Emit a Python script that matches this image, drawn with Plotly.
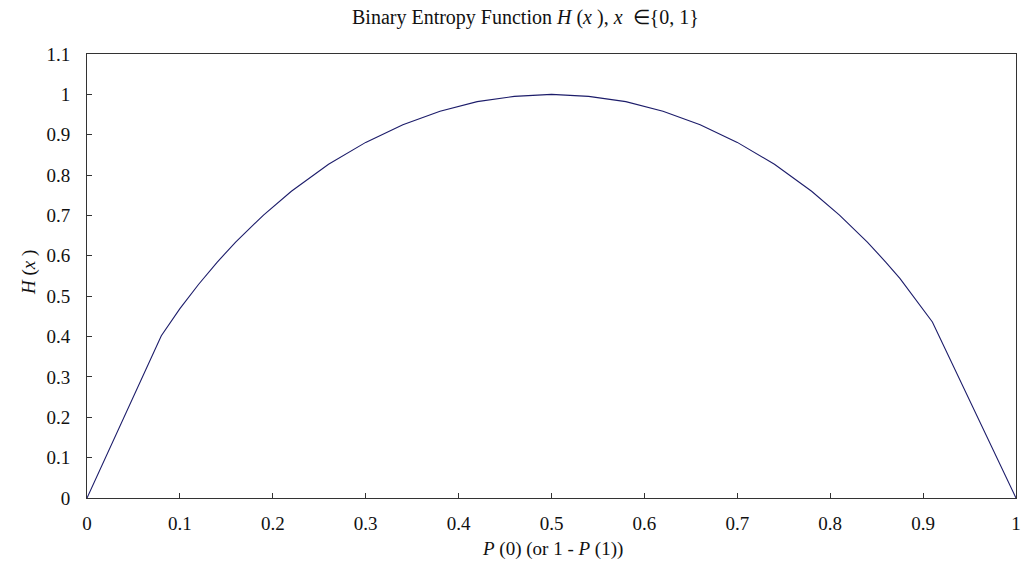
import plotly.graph_objects as go

p0 = [0.0, 0.08, 0.10, 0.12, 0.14, 0.16, 0.19,
      0.22, 0.26, 0.30, 0.34, 0.38, 0.42, 0.46, 0.50,
      0.54, 0.58, 0.62, 0.66, 0.70, 0.74, 0.78, 0.81, 0.84, 0.86, 0.875,
      0.91, 1.0]
h = [0.0, 0.402, 0.469, 0.529, 0.584, 0.634, 0.701,
     0.760, 0.827, 0.881, 0.925, 0.958, 0.982, 0.995, 1.0,
     0.995, 0.982, 0.958, 0.925, 0.881, 0.827, 0.760, 0.701, 0.634, 0.584, 0.544,
     0.436, 0.0]

x_ticks = [0, 0.1, 0.2, 0.3, 0.4, 0.5, 0.6, 0.7, 0.8, 0.9, 1]
x_labels = ["0", "0.1", "0.2", "0.3", "0.4", "0.5", "0.6", "0.7", "0.8", "0.9", "1"]
y_ticks = [0, 0.1, 0.2, 0.3, 0.4, 0.5, 0.6, 0.7, 0.8, 0.9, 1, 1.1]
y_labels = ["0", "0.1", "0.2", "0.3", "0.4", "0.5", "0.6", "0.7", "0.8", "0.9", "1", "1.1"]

FONT = "Liberation Serif, Times New Roman, serif"
TXT = "#111111"

fig = go.Figure()
fig.add_trace(go.Scatter(x=p0, y=h, mode="lines",
                         line=dict(color="#1c1c6a", width=1.1),
                         showlegend=False, hoverinfo="skip"))

axis_common = dict(showline=True, linecolor="#333333", linewidth=1,
                   mirror=True, ticks="inside", ticklen=5, tickcolor="#333333",
                   showgrid=False, zeroline=False, automargin=False,
                   tickfont=dict(family=FONT, size=19, color=TXT))

fig.update_layout(
    width=1021, height=580,
    margin=dict(l=87, r=5, t=54, b=82, autoexpand=False),
    paper_bgcolor="white", plot_bgcolor="white",
    font=dict(family=FONT, color=TXT),
    xaxis=dict(range=[0, 1], tickvals=x_ticks, ticktext=x_labels,
               ticklabelstandoff=8, **axis_common),
    yaxis=dict(range=[0, 1.1], tickvals=y_ticks, ticktext=y_labels,
               ticklabelstandoff=12, **axis_common),
)

fig.add_annotation(text="Binary Entropy Function <i>H</i> (<i>x</i> ), <i>x</i>  ∈{0, 1}",
                   xref="paper", yref="paper", x=(525 - 87) / 929, y=(498 - 18) / 444,
                   xanchor="center", yanchor="middle", showarrow=False,
                   font=dict(family=FONT, size=20, color=TXT))
fig.add_annotation(text="<i>P</i> (0) (or 1 - <i>P</i> (1))",
                   xref="paper", yref="paper", x=(552 - 87) / 929, y=(498 - 549) / 444,
                   xanchor="center", yanchor="middle", showarrow=False,
                   font=dict(family=FONT, size=19, color=TXT))
fig.add_annotation(text="<i>H</i> (<i>x</i> )",
                   xref="paper", yref="paper", x=(29 - 87) / 929, y=(498 - 273) / 444,
                   xanchor="center", yanchor="middle", showarrow=False, textangle=-90,
                   font=dict(family=FONT, size=19, color=TXT))

fig.write_html("out.html", config={"displayModeBar": False},
               post_script="document.body.style.margin='0';document.body.style.padding='0';")
